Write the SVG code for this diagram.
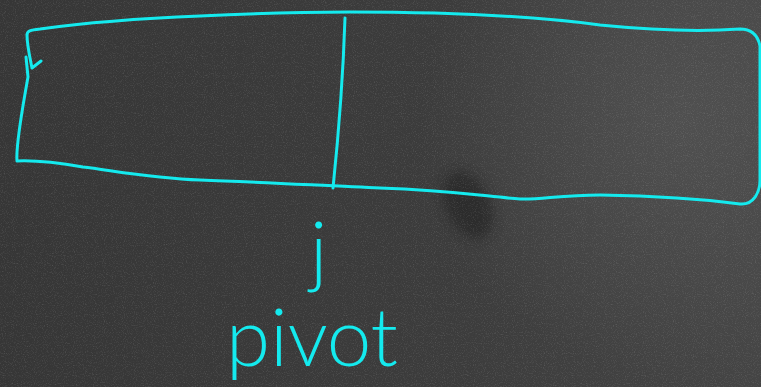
<svg xmlns="http://www.w3.org/2000/svg" width="761" height="387" viewBox="0 0 761 387">
<defs>
<style>
.chalk{fill:none;stroke:#14eaee;stroke-width:3;stroke-linecap:round;stroke-linejoin:round}
.hand{fill:#14eaee;font-family:Lato,Roboto,Inter,"DejaVu Sans",sans-serif;font-weight:300}
</style>
<radialGradient id="light" cx="680" cy="120" r="260" gradientUnits="userSpaceOnUse">
<stop offset="0" stop-color="#5a5a5a" stop-opacity="0.55"/>
<stop offset="1" stop-color="#5a5a5a" stop-opacity="0"/>
</radialGradient>
<linearGradient id="base" x1="0" y1="0" x2="1" y2="0">
<stop offset="0" stop-color="#363636"/>
<stop offset="0.6" stop-color="#3c3c3c"/>
<stop offset="1" stop-color="#454545"/>
</linearGradient>
<filter id="blur" x="-50%" y="-50%" width="200%" height="200%"><feGaussianBlur stdDeviation="6"/></filter>
<filter id="noise" x="0" y="0" width="100%" height="100%">
<feTurbulence type="fractalNoise" baseFrequency="0.9" numOctaves="2" seed="3" result="n"/>
<feColorMatrix in="n" type="matrix" values="0 0 0 0 1  0 0 0 0 1  0 0 0 0 1  0 0 0 0.9 -0.45" result="s"/>
<feComposite in="s" in2="SourceGraphic" operator="in"/>
</filter>
</defs>
<g id="board">
<rect width="761" height="387" fill="url(#base)"/>
<rect width="761" height="387" fill="url(#light)"/>
<ellipse cx="468" cy="205" rx="22" ry="36" transform="rotate(-25 468 205)" fill="#252525" opacity="0.75" filter="url(#blur)"/>
<rect width="761" height="387" fill="#ffffff" opacity="0.35" filter="url(#noise)"/>
</g>
<g id="array">
<path class="chalk" d="M32 68 L41 61 M32 68 C30 58 27 45 27 35 C27 31 30 30 40 29 C90 22 150 18 200 16 C260 13 310 12 350 12 C450 12 540 17 600 25 C650 30 700 32 740 29 C752 29 758 36 760 46 L760 180 C760 192 754 205 740 204 C710 200 660 196 600 195 C560 195 540 200 520 199 C490 197 450 190 380 188 C330 186 260 182 200 180 C150 178 110 170 83 167 C60 163 40 160 17 161 C16 150 22 110 28 77 L26 57"/>
<path class="chalk" d="M345 18 C343 80 338 140 333 188"/>
</g>
<g id="labels">
<text class="hand" x="310" y="278" font-size="78">j</text>
<text class="hand" x="226" y="366" font-size="80" textLength="172">pivot</text>
</g>
</svg>
